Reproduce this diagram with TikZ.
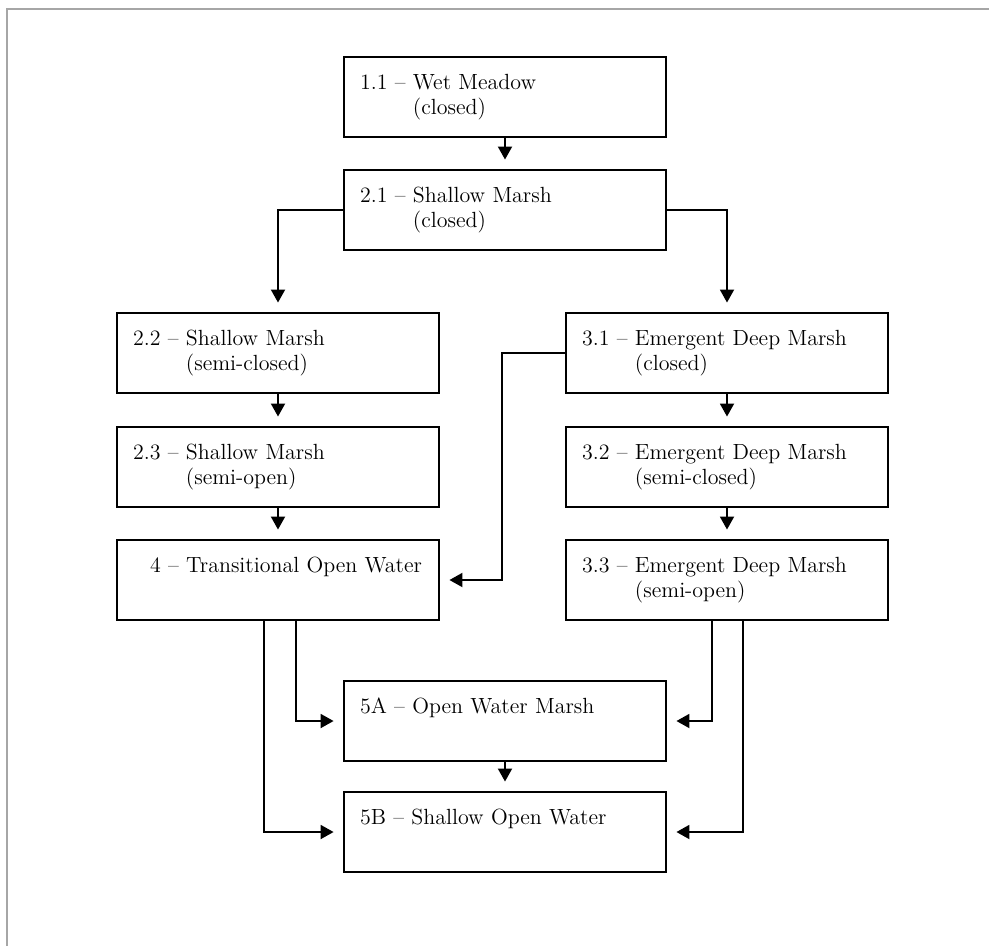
\documentclass[tikz,border=0pt]{standalone}
\usetikzlibrary{arrows.meta,calc}
\newcommand{\stagelbl}[3]{\begin{tabular}{@{}l@{\ }l@{}}#1~--&#2\\&#3\end{tabular}}
\tikzset{
  stagebox/.style={draw, rectangle, line width=1.1pt, minimum height=1.6cm,
    text width=5.8cm, inner xsep=0.32cm, inner ysep=0pt, align=left,
    font=\fontsize{12.5}{13.9}\selectfont},
  flow/.style={line width=1.1pt, -{Triangle[width=0.28cm,length=0.26cm]},
    shorten >=0.19cm}
}
\begin{document}
\begin{tikzpicture}[x=0.02cm,y=-0.02cm]
      \useasboundingbox (0,0) rectangle (989,946);
      \draw[gray!70, line width=0.8pt] (7,946) -- (7,9) -- (989,9);
      \path
        (505,97) node[stagebox] (n11){\stagelbl{1.1}{Wet Meadow}{(closed)}}
        (505,210) node[stagebox] (n21){\stagelbl{2.1}{Shallow Marsh}{(closed)}}
        (278,353) node[stagebox] (n22){\stagelbl{2.2}{Shallow Marsh}{(semi-closed)}}
        (278,467) node[stagebox] (n23){\stagelbl{2.3}{Shallow Marsh}{(semi-open)}}
        (278,580) node[stagebox] (n4){\stagelbl{\hspace*{0.34cm}4}{Transitional Open Water}{}}
        (727,353) node[stagebox] (n31){\stagelbl{3.1}{Emergent Deep Marsh}{(closed)}}
        (727,467) node[stagebox] (n32){\stagelbl{3.2}{Emergent Deep Marsh}{(semi-closed)}}
        (727,580) node[stagebox] (n33){\stagelbl{3.3}{Emergent Deep Marsh}{(semi-open)}}
        (505,721) node[stagebox] (n5a){\stagelbl{5A}{Open Water Marsh}{}}
        (505,832) node[stagebox] (n5b){\stagelbl{5B}{Shallow Open Water}{}};
      \begin{scope}[flow]
        \draw (n11) to (n21);
        \draw (n21.west) -| (n22.north);
        \draw (n21.east) -| (n31.north);
        \draw (n22) to (n23);
        \draw (n23) to (n4);
        \draw (n31) to (n32);
        \draw (n32) to (n33);
        \draw (n31.west) -- ++(-63,0) |- (n4.east);
        \draw ($(n4.south)+(18,0)$) |- (n5a.west);
        \draw ($(n4.south)+(-14,0)$) |- (n5b.west);
        \draw ($(n33.south)+(-15,0)$) |- (n5a.east);
        \draw ($(n33.south)+(16,0)$) |- (n5b.east);
        \draw (n5a) to (n5b);
      \end{scope}
    \end{tikzpicture}
\end{document}
